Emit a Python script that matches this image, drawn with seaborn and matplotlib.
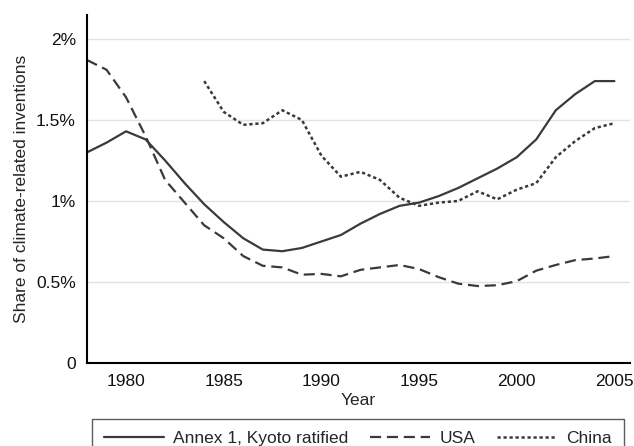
import numpy as np
import pandas as pd
import seaborn as sns
import matplotlib.pyplot as plt
from matplotlib.ticker import FixedLocator

# Dati (quota in %)
years = list(range(1978, 2006))
annex1 = [1.30, 1.36, 1.43, 1.38, 1.25, 1.11, 0.98, 0.87, 0.77, 0.70,
          0.69, 0.71, 0.75, 0.79, 0.86, 0.92, 0.97, 0.99, 1.03, 1.08,
          1.14, 1.20, 1.27, 1.38, 1.56, 1.66, 1.74, 1.74]
usa = [1.87, 1.81, 1.64, 1.40, 1.13, 0.99, 0.85, 0.77, 0.66, 0.60,
       0.59, 0.545, 0.55, 0.535, 0.575, 0.59, 0.605, 0.58, 0.53, 0.49,
       0.475, 0.48, 0.505, 0.57, 0.605, 0.635, 0.645, 0.66]
china_years = list(range(1984, 2006))
china = [1.74, 1.55, 1.47, 1.48, 1.56, 1.50, 1.28, 1.15, 1.18, 1.13,
         1.02, 0.97, 0.99, 1.00, 1.06, 1.01, 1.07, 1.11, 1.27, 1.37,
         1.45, 1.48]

ytick_vals = [0, 0.5, 1, 1.5, 2]
ytick_labels = ["0", "0.5%", "1%", "1.5%", "2%"]
xtick_vals = [1980, 1985, 1990, 1995, 2000, 2005]

sns.set_style("white")
plt.rcParams["font.family"] = ["Liberation Sans", "DejaVu Sans"]
fs = 12.5

fig = plt.figure(figsize=(6.34, 4.46), dpi=100)
ax = fig.add_axes([0.1372, 0.1861, 0.8565, 0.7803])

line_col = "#3a3a3a"
df_a = pd.DataFrame({"year": years, "share": annex1})
df_u = pd.DataFrame({"year": years, "share": usa})
df_c = pd.DataFrame({"year": china_years, "share": china})

sns.lineplot(data=df_a, x="year", y="share", ax=ax, color=line_col,
             lw=1.6, label="Annex 1, Kyoto ratified")
sns.lineplot(data=df_u, x="year", y="share", ax=ax, color=line_col,
             lw=1.6, linestyle=(0, (5, 2.6)), label="USA")
sns.lineplot(data=df_c, x="year", y="share", ax=ax, color=line_col,
             lw=1.8, linestyle=(0, (1.3, 1.1)), label="China")

ax.set_xlim(1978, 2005.8)
ax.set_ylim(0, 2.148)
ax.yaxis.set_major_locator(FixedLocator(ytick_vals))
ax.set_yticklabels(ytick_labels)
ax.set_xticks(xtick_vals)

# griglia orizzontale chiara
for v in ytick_vals[1:]:
    ax.axhline(v, color="#e2e2e2", lw=1.0, zorder=0)

for s in ["top", "right"]:
    ax.spines[s].set_visible(False)
for s in ["left", "bottom"]:
    ax.spines[s].set_color("black")
    ax.spines[s].set_linewidth(1.5)

ax.tick_params(axis="both", direction="out", length=5, width=1.3,
               color="black", labelsize=fs, labelcolor="#111111", pad=3)
ax.set_xlabel("Year", fontsize=fs, labelpad=3)
ax.set_ylabel("Share of climate-related inventions", fontsize=fs, labelpad=5)

# Legenda in basso, tagliata dal bordo della figura come nell'originale
ax.get_legend().remove()
handles, labels = ax.get_legend_handles_labels()
leg = fig.legend(handles, labels, loc="upper left", ncol=3,
                 bbox_to_anchor=(0.145, -0.2, 0.839, 0.2606),
                 mode="expand", borderaxespad=0, fontsize=fs,
                 frameon=True, fancybox=False, handlelength=3.45,
                 handletextpad=0.55, borderpad=0.68)
leg.get_frame().set_edgecolor("#333333")
leg.get_frame().set_linewidth(1.0)

fig.savefig("out.png", dpi=100)
